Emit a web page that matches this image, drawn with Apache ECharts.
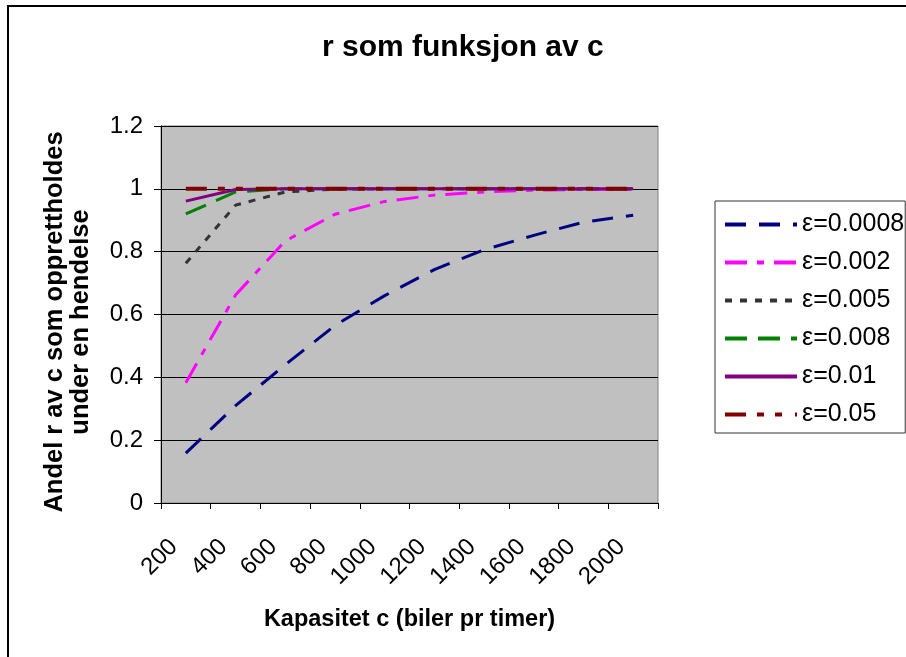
<!DOCTYPE html>
<html><head><meta charset="utf-8">
<script src="https://cdn.jsdelivr.net/npm/echarts@6/dist/echarts.min.js"></script>
<style>html,body{margin:0;padding:0;background:#fff}#c{width:906px;height:657px}</style>
</head><body><div id="c"></div>
<script>
// ---- data ----
const categories = ['200','400','600','800','1000','1200','1400','1600','1800','2000'];
const seriesNames = ['ε=0.0008','ε=0.002','ε=0.005','ε=0.008','ε=0.01','ε=0.05'];
const e0008 = [0.159, 0.310, 0.440, 0.565, 0.660, 0.743, 0.806, 0.852, 0.894, 0.916];
const e002  = [0.383, 0.662, 0.834, 0.919, 0.960, 0.980, 0.990, 0.996, 0.998, 0.999];
const e005  = [0.763, 0.948, 0.990, 0.999, 1, 1, 1, 1, 1, 1];
const e008  = [0.920, 0.990, 1, 1, 1, 1, 1, 1, 1, 1];
const e01   = [0.961, 0.998, 1, 1, 1, 1, 1, 1, 1, 1];
const e05   = [1, 1, 1, 1, 1, 1, 1, 1, 1, 1];
const yTicks = [0, 0.2, 0.4, 0.6, 0.8, 1, 1.2];

const FONT = "'Liberation Sans', Arial, sans-serif";
const chart = echarts.init(document.getElementById('c'), null, {renderer: 'canvas'});

function mk(name, data, color, dash, width) {
  return {
    name: name, type: 'line', data: data, symbol: 'none', showSymbol: false,
    lineStyle: {color: color, width: width, type: dash, cap: 'butt'},
    itemStyle: {color: color}, animation: false
  };
}

const option = {
  animation: false,
  backgroundColor: '#fff',
  textStyle: {fontFamily: FONT},
  title: {
    text: 'r som funksjon av c', left: 322, top: 33, padding: 0,
    textStyle: {fontSize: 30, fontWeight: 'bold', color: '#000', fontFamily: FONT}
  },
  graphic: [{
    type: 'rect', silent: true, z: 100,
    shape: {x: 8, y: 6, width: 2000, height: 2000},
    style: {fill: 'none', stroke: '#000', lineWidth: 2}
  }],
  legend: {
    orient: 'vertical', left: 715, top: 201,
    padding: [11, 1, 6, 8], itemGap: 13, itemWidth: 72, itemHeight: 20,
    backgroundColor: '#fff', borderColor: '#333', borderWidth: 1,
    textStyle: {fontSize: 25, color: '#000', fontFamily: FONT, lineHeight: 24},
    itemStyle: {opacity: 0},
    lineStyle: {width: 4},
    data: seriesNames
  },
  grid: {
    left: 161, right: 248, top: 126, bottom: 154,
    show: true, backgroundColor: '#C0C0C0', borderColor: '#808080', borderWidth: 1,
    containLabel: false, outerBoundsMode: 'none'
  },
  xAxis: {
    type: 'category', data: categories, boundaryGap: true,
    name: 'Kapasitet c (biler pr timer)', nameLocation: 'middle', nameGap: 105,
    nameTextStyle: {fontSize: 23.5, fontWeight: 'bold', color: '#000', fontFamily: FONT},
    axisLine: {show: true, lineStyle: {color: '#000', width: 1}},
    axisTick: {show: true, alignWithLabel: false, length: 6, lineStyle: {color: '#000'}},
    axisLabel: {rotate: 45, fontSize: 24, color: '#000', margin: 28, padding: [0, 17, 0, 0], fontFamily: FONT, interval: 0},
    splitLine: {show: false}
  },
  yAxis: {
    type: 'value', min: 0, max: 1.2, interval: 0.2,
    name: 'Andel r av c som opprettholdes\nunder en hendelse', nameLocation: 'middle', nameRotate: 90, nameGap: 67,
    nameTextStyle: {fontSize: 25.5, fontWeight: 'bold', color: '#000', lineHeight: 26, fontFamily: FONT, padding: [0, 15, 0, 0], align: 'center'},
    axisLine: {show: true, lineStyle: {color: '#000', width: 1}},
    axisTick: {show: true, length: 7, lineStyle: {color: '#000'}},
    axisLabel: {fontSize: 24, color: '#000', margin: 18, fontFamily: FONT,
      formatter: function (v) { const t = yTicks.find(function (k) { return Math.abs(k - v) < 1e-9; }); return t === undefined ? '' : String(t); }},
    splitLine: {show: true, lineStyle: {color: '#000', width: 1}}
  },
  series: [
    mk(seriesNames[0], e0008, '#000080', [21, 13], 3),
    mk(seriesNames[1], e002, '#FF00FF', [22, 10, 7, 10], 3),
    mk(seriesNames[2], e005, '#333333', [7, 8], 3),
    mk(seriesNames[3], e008, '#008000', [22, 11], 3),
    mk(seriesNames[4], e01, '#800080', 'solid', 3),
    mk(seriesNames[5], e05, '#800000', [21, 11, 7, 11, 7, 13], 4)
  ]
};
chart.setOption(option);
</script>
</body></html>
